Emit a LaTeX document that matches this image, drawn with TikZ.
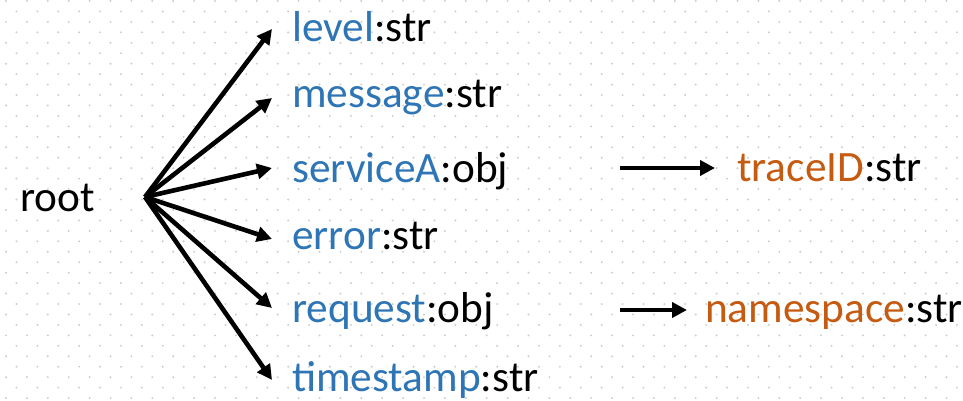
\documentclass[tikz,border=0pt]{standalone}
\usepackage{fontspec}
\setmainfont{Carlito}
\usetikzlibrary{arrows.meta}
\definecolor{keyblue}{RGB}{46,117,182}
\definecolor{keyorange}{RGB}{197,90,17}
\definecolor{dotgray}{RGB}{205,205,205}
\tikzset{
  lbl/.style={anchor=base west, inner sep=0pt, font=\fontsize{43.3}{50}\selectfont},
  arr/.style={line width=4.6pt, -{Triangle[length=15pt,width=15pt]}},
}
\begin{document}
\begin{tikzpicture}[x=1pt,y=1pt]
\useasboundingbox (0,0) rectangle (963,401);
% dotted background
\foreach \i in {0,...,38}{
  \pgfmathsetmacro\off{mod(\i,2)*10.45}
  \foreach \j in {0,...,46}{
    \fill[dotgray] ({6+\off+20.9*\j},{400-10.45*\i}) circle (1.1);
  }
}
% nodes
\node[lbl] (root) at (20,189) {root};
\node[lbl] (level) at (292,359) {\textcolor{keyblue}{level}:str};
\node[lbl] (message) at (292,293) {\textcolor{keyblue}{message}:str};
\node[lbl] (serviceA) at (292,218) {\textcolor{keyblue}{serviceA}:obj};
\node[lbl] (error) at (292,151) {\textcolor{keyblue}{error}:str};
\node[lbl] (request) at (292,78) {\textcolor{keyblue}{request}:obj};
\node[lbl] (timestamp) at (292,9) {\textcolor{keyblue}{timestamp}:str};
\node[lbl] (traceID) at (737,219) {\textcolor{keyorange}{traceID}:str};
\node[lbl] (namespace) at (705,78) {\textcolor{keyorange}{namespace}:str};
% connector points
\coordinate (o) at (145,204);
\coordinate (tLevel) at (272,372);
\coordinate (tMessage) at (272,303);
\coordinate (tService) at (272,233);
\coordinate (tError) at (272,162);
\coordinate (tRequest) at (272,93);
\coordinate (tTime) at (272,21);
\coordinate (sTrace) at (620,233);
\coordinate (eTrace) at (715,233);
\coordinate (sNs) at (620,91);
\coordinate (eNs) at (687,91);
% connectors
\draw[arr] (o) -- (tLevel);
\draw[arr] (o) -- (tMessage);
\draw[arr] (o) -- (tService);
\draw[arr] (o) -- (tError);
\draw[arr] (o) -- (tRequest);
\draw[arr] (o) -- (tTime);
\draw[arr] (sTrace) -- (eTrace);
\draw[arr] (sNs) -- (eNs);
\end{tikzpicture}
\end{document}
